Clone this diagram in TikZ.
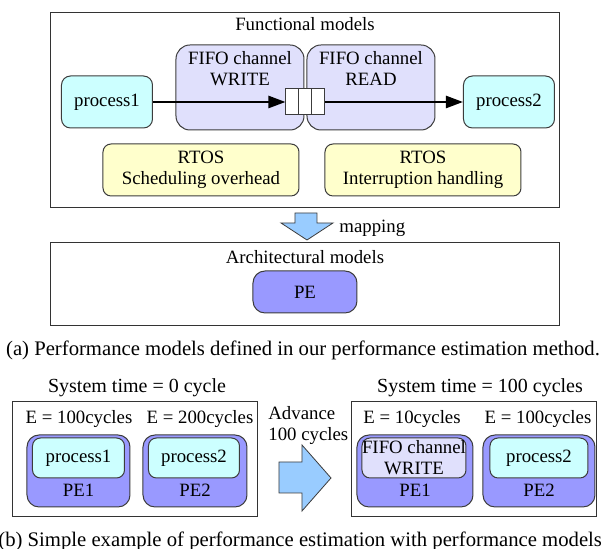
\documentclass[tikz,border=0pt]{standalone}
\usepackage{fontspec}
\setmainfont{Liberation Serif}
\usepackage{tikz}
\usetikzlibrary {arrows.meta}

\definecolor{fifofill}{RGB}{224,224,252}
\definecolor{procfill}{RGB}{204,255,255}
\definecolor{rtosfill}{RGB}{255,255,204}
\definecolor{pefill}{RGB}{153,153,255}
\definecolor{bigarrow}{RGB}{153,204,255}
\definecolor{edge}{RGB}{60,60,60}

\begin{document}
\begin{tikzpicture} [x = 0.5pt, y = -0.5pt]
        %style
        \tikzset{frame/.style = {shape=rectangle, draw=black!80, line width=0.5pt, inner sep=0}}
        \tikzset{box/.style = {shape=rectangle, draw=edge, line width=0.5pt, inner sep=0, align=center, font=\fontsize{9.4}{10.5}\selectfont}}
        \tikzset{fifobox/.style = {box, fill=fifofill, rounded corners=7pt, minimum width=64pt, minimum height=42.5pt}}
        \tikzset{procbox/.style = {box, fill=procfill, rounded corners=4.5pt, minimum width=45.5pt, minimum height=26pt}}
        \tikzset{rtosbox/.style = {box, fill=rtosfill, rounded corners=4pt, minimum width=98pt, minimum height=26pt}}
        \tikzset{pebox/.style = {box, fill=pefill, rounded corners=6pt, minimum height=36pt}}
        \tikzset{innerbox/.style = {box, rounded corners=4pt, minimum height=20pt}}
        \tikzset{cell/.style = {box, fill=white, minimum width=6.5pt, minimum height=13pt}}
        \tikzset{txt/.style = {inner sep=0, font=\fontsize{9.4}{10.5}\selectfont}}
        \tikzset{bigtxt/.style = {inner sep=0, font=\fontsize{10}{11}\selectfont}}
        \tikzset{captxt/.style = {inner sep=0, font=\fontsize{10.35}{11.5}\selectfont}}
        \useasboundingbox (0,0) rectangle (602,549);

        % (a) functional models
        \node[frame, minimum width=254.5pt, minimum height=97.5pt] (func) at (305.5,110.5) {};
        \node[txt] (functitle) at (305,24) {Functional models};
        \node[fifobox] (fifow) at (240,87.5) {};
        \node[fifobox] (fifor) at (371,87.5) {};
        \node[txt, align=center] (fifowtxt) at (240,69) {FIFO channel\\WRITE};
        \node[txt, align=center] (fiforlbl) at (371,69) {FIFO channel\\READ};
        \node[cell] (buf1) at (292.5,102) {};
        \node[cell] (buf2) at (305.5,102) {};
        \node[cell] (buf3) at (318.5,102) {};
        \node[procbox] (proc1) at (107,102) {process1};
        \node[procbox] (proc2) at (509,102) {process2};
        \node[rtosbox] (sched) at (201,170) {RTOS\\Scheduling overhead};
        \node[rtosbox] (intr)  at (423,170) {RTOS\\Interruption handling};
        \draw [line width=1.2pt, -{Triangle[length=8.5pt, width=6pt]}] (proc1) to (buf1);
        \draw [line width=1.2pt, -{Triangle[length=8.5pt, width=6pt]}] (buf3) to (proc2);

        % mapping
        \filldraw [fill=bigarrow, draw=edge, line width=0.4pt]
                (295,213) -- (317,213) -- (317,223) -- (333,223) -- (307,240)
                -- (281,223) -- (295,223) -- cycle;
        \node[txt, anchor=west] (maptxt) at (339,228) {mapping};

        % architectural models
        \node[frame, minimum width=254.5pt, minimum height=41.5pt] (arch) at (305.5,284.5) {};
        \node[txt] (archtitle) at (305,257) {Architectural models};
        \node[pebox, minimum width=52pt, minimum height=21pt] (pe) at (305,292) {PE};
        \node[captxt] (capa) at (303,350) {(a) Performance models defined in our performance estimation method.};

        % (b) left: system time = 0
        \node[bigtxt] (tzero) at (137,388) {System time = 0 cycle};
        \node[frame, minimum width=122.5pt, minimum height=57.5pt] (left) at (135.5,459.5) {};
        \node[txt] (e1) at (79,419) {E = 100cycles};
        \node[txt] (e2) at (200,419) {E = 200cycles};
        \node[pebox, minimum width=51.5pt] (pe1) at (78.5,471) {};
        \node[innerbox, fill=procfill, minimum width=46pt] (lp1) at (78.5,458) {process1};
        \node[txt] (pe1lbl) at (78.5,490) {PE1};
        \node[pebox, minimum width=52pt] (pe2) at (195,471) {};
        \node[innerbox, fill=procfill, minimum width=45.5pt] (lp2) at (194,458) {process2};
        \node[txt] (pe2lbl) at (195,490) {PE2};

        % advance
        \node[txt, align=left, anchor=west] (adv) at (268,426) {Advance\\100 cycles};
        \filldraw [fill=bigarrow, draw=edge, line width=0.4pt]
                (279,462) -- (302,462) -- (302,445) -- (331,478) -- (302,511)
                -- (302,493) -- (279,493) -- cycle;

        % (b) right: system time = 100
        \node[bigtxt] (thund) at (480,388) {System time = 100 cycles};
        \node[frame, minimum width=122.5pt, minimum height=57.5pt] (right) at (474.5,459.5) {};
        \node[txt] (e3) at (412,419) {E = 10cycles};
        \node[txt] (e4) at (538,419) {E = 100cycles};
        \node[pebox, minimum width=58pt] (pe1r) at (415,471) {};
        \node[innerbox, fill=fifofill, minimum width=52pt] (rfifo) at (414,458) {FIFO channel\\WRITE};
        \node[txt] (pe1rlbl) at (415,490) {PE1};
        \node[pebox, minimum width=56pt] (pe2r) at (539,471) {};
        \node[innerbox, fill=procfill, minimum width=49pt] (rp2) at (539,458) {process2};
        \node[txt] (pe2rlbl) at (539,490) {PE2};
        \node[captxt, anchor=west] (capb) at (-2,541) {(b) Simple example of performance estimation with performance models};
\end{tikzpicture}
\end{document}
